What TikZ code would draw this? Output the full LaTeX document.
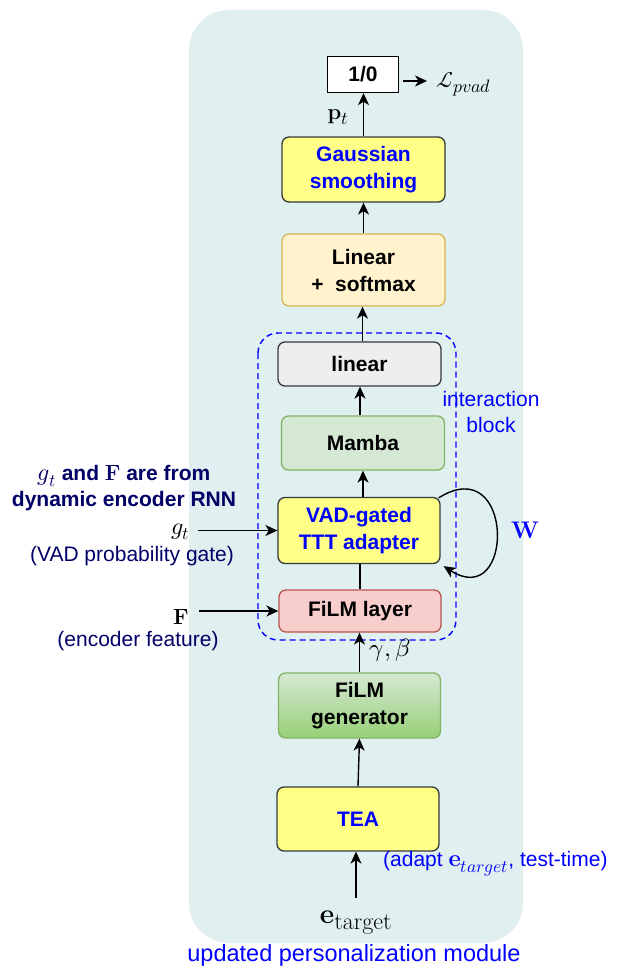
\documentclass[tikz,border=0pt]{standalone}
\usepackage{fontspec}
\setsansfont{Liberation Sans}
\usepackage{amsmath}
\usepackage{unicode-math}
\setmathfont{Latin Modern Math}
\usetikzlibrary{arrows.meta,calc}

\DeclareMathSizes{22}{22}{18}{14}
\DeclareMathSizes{24}{24}{17.5}{13}
\DeclareMathSizes{25}{25}{18}{14}
\DeclareMathSizes{28}{28}{24}{18}

\definecolor{bgteal}{HTML}{E0EFEF}
\definecolor{boxgray}{HTML}{36393D}
\definecolor{boxyellow}{HTML}{FFFF88}
\definecolor{softfill}{HTML}{FFF2CC}
\definecolor{softline}{HTML}{D6B656}
\definecolor{greyfill}{HTML}{EEEEEE}
\definecolor{greenfill}{HTML}{D5E8D4}
\definecolor{greendark}{HTML}{97D077}
\definecolor{greenline}{HTML}{82B366}
\definecolor{redfill}{HTML}{F8CECC}
\definecolor{redline}{HTML}{B85450}
\definecolor{navy}{HTML}{000066}

\newcommand{\boxfont}{\sffamily\bfseries\fontsize{21}{27}\selectfont}
\newcommand{\sidefont}{\sffamily\fontsize{21}{26}\selectfont}
% math at a given size (size set in the text, so that math follows it)
\newcommand{\mlab}[2][22]{{\fontsize{#1}{#1}\selectfont$#2$}}

\tikzset{
  blk/.style={draw=boxgray, line width=1.3pt, rounded corners=7pt, minimum width=163pt,
    align=center, inner sep=0pt, font=\boxfont},
  yelbox/.style={blk, fill=boxyellow, text=blue},
  softbox/.style={blk, draw=softline, fill=softfill},
  greybox/.style={blk, fill=greyfill},
  greenbox/.style={blk, draw=greenline, fill=greenfill},
  gradbox/.style={blk, draw=greenline, top color=greenfill, bottom color=greendark},
  redbox/.style={blk, draw=redline, fill=redfill},
  sidetext/.style={text=navy, font=\sidefont, align=center, inner sep=2pt},
  mlabel/.style={inner sep=2pt},
  arr/.style={->, line width=1.4pt}
}

\begin{document}
\begin{tikzpicture}[x=1pt,y=-1pt,>={Stealth[length=12pt,width=11pt,inset=3.5pt]}]
\useasboundingbox (0,0) rectangle (622,976);
% module background
\fill[bgteal,rounded corners=40pt] (189,10) rectangle (523,943);
% interaction block frame
\draw[blue,dash pattern=on 6pt off 4pt,line width=1.4pt,rounded corners=20pt] (258,333) rectangle (456,640);
% output and head
\node[draw,fill=white,line width=1.3pt,minimum width=71pt,minimum height=36pt,inner sep=0pt,font=\boxfont] (out) at (363,74.5) {1/0};
\node[yelbox,minimum height=65pt] (gauss) at (363.5,169.5) {Gaussian\\smoothing};
\node[softbox,minimum height=72pt] (linsoft) at (363.5,270) {Linear\\+\ \ softmax};
% interaction block
\node[greybox,minimum height=44pt] (lin) at (359.5,364) {linear};
\node[greenbox,minimum height=54pt] (mamba) at (363,443) {Mamba};
\node[yelbox,minimum width=162pt,minimum height=66pt] (ttt) at (359,530.5) {VAD-gated\\TTT adapter};
\node[redbox,minimum width=162pt,minimum height=42pt] (film) at (360,611) {FiLM layer};
% conditioning branch
\node[gradbox,minimum width=162pt,minimum height=65pt] (filmgen) at (359.5,705.5) {FiLM\\generator};
\node[yelbox,minimum width=162pt,minimum height=64pt] (tea) at (358,819) {TEA};
% labels
\coordinate (lossin) at (427,81);
\node[mlabel,anchor=west] (lpvad) at (434,84) {\mlab{\mathcal{L}_{pvad}}};
\node[mlabel] (pt) at (338,117) {\mlab{\mathbf{p}_t}};
\node[mlabel] (gb) at (390,650) {\mlab[25]{\gamma,\beta}};
\node[mlabel,text=blue] (wl) at (525,530) {\mlab[24]{\mathbf{W}}};
\node[text=blue,font=\sidefont,align=center] (iblk) at (491,412) {interaction\\block};
\node[sidetext,font=\sidefont\bfseries] (src) at (124,488) {\mlab[24]{g_t} and \mlab{\mathbf{F}} are from\\dynamic encoder RNN};
\node[mlabel,anchor=base east] (gtl) at (192,534) {\mlab[24]{g_t}};
\node[sidetext] (gate) at (132,556) {(VAD probability gate)};
\node[mlabel,anchor=base east] (fl) at (191,624) {\mlab{\mathbf{F}}};
\node[sidetext] (enc) at (138,641) {(encoder feature)};
\node[mlabel,anchor=base] (etg) at (356,923) {\mlab[28]{\mathbf{e}_{\mathrm{target}}}};
\node[text=blue,font=\sidefont,anchor=west,inner sep=0pt] (adapt) at (383,864) {(adapt \mlab[24]{\mathbf{e}_{target}}, test-time)};
\node[text=blue,font=\sffamily\fontsize{23.5}{28}\selectfont] (mod) at (354,955) {updated personalization module};
% connectors
\draw[arr] (gauss.north) -- (gauss.north |- out.south);
\draw[arr,shorten <=4pt] ([yshift=-6.5pt]out.east) -- (lossin);
\draw[arr] (linsoft.north) -- (linsoft.north |- gauss.south);
\draw[arr] ([xshift=3pt]lin.north) -- ([xshift=3pt]lin.north |- linsoft.south);
\draw[arr] ([xshift=-3pt]mamba.north) -- ([xshift=-3pt]mamba.north |- lin.south);
\draw[arr] ([xshift=4pt]ttt.north) -- ([xshift=4pt]ttt.north |- mamba.south);
\draw[line width=1.4pt] (film.north) -- (film.north |- ttt.south);
\draw[arr] (filmgen.north) -- (filmgen.north |- film.south);
\draw[arr] (tea.north) -- (filmgen.south);
\draw[arr,shorten <=10pt] (etg.north) -- (etg.north |- tea.south);
\draw[arr] (gtl.east |- ttt.west) ++(6,0) -- (ttt.west);
\draw[arr] (fl.east |- film.west) ++(8,0) -- (film.west);
% self loop of the adapter
\draw[arr] ([xshift=-2pt,yshift=-1pt]ttt.north east) .. controls (515,450) and (515,612) .. ([xshift=3pt,yshift=-2pt]ttt.south east);
\end{tikzpicture}
\end{document}
